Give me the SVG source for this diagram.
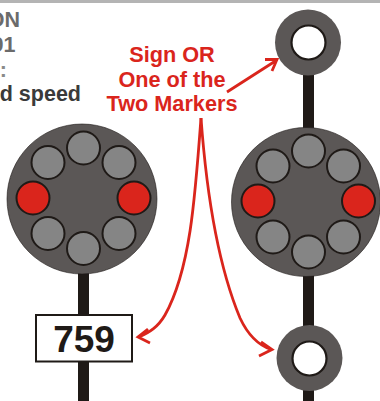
<svg xmlns="http://www.w3.org/2000/svg" width="380" height="401" viewBox="0 0 380 401">
<style>
text{font-family:"Liberation Sans",Arial,sans-serif;font-weight:700}
.pole{fill:#1f1a17}
.disc{fill:#5b5756;stroke:#1f1a17;stroke-width:.6}
.ring{fill:#5b5756}
.hole{fill:#fff;stroke:#1f1a17;stroke-width:2.2}
.g{fill:#858585;stroke:#1f1a17;stroke-width:2}
.r{fill:#da251c;stroke:#1f1a17;stroke-width:2}
.lab{fill:#da251c;font-size:21.7px;text-anchor:middle}
.con{fill:none;stroke:#da251c;stroke-width:2.8}
</style>
<rect width="380" height="3" fill="#b4b4b4"/>
<g id="caption">
<text x="20" y="27" font-size="21.5" text-anchor="end" fill="#6b6b6b">ON</text>
<text x="15.500" y="52" font-size="21.5" text-anchor="end" fill="#6b6b6b">91</text>
<text x="7" y="77" font-size="21.5" text-anchor="end" fill="#8a8a8a">:</text>
<text x="81" y="101" font-size="21.500" text-anchor="end" fill="#3a3a3a">d speed</text>
</g>
<g id="left-pole"><rect class="pole" x="78" y="270" width="11" height="131"/></g>
<g id="right-pole"><rect class="pole" x="303" y="60" width="11" height="341"/></g>
<g id="left-signal">
<circle class="disc" cx="82" cy="199" r="75"/>
<circle class="g" cx="83.500" cy="148" r="16.500"/>
<circle class="g" cx="48" cy="162.500" r="16.500"/>
<circle class="g" cx="119" cy="162.500" r="16.500"/>
<circle class="r" cx="33" cy="198" r="16.500"/>
<circle class="r" cx="134" cy="198" r="16.500"/>
<circle class="g" cx="48" cy="233.500" r="16.500"/>
<circle class="g" cx="119" cy="233.500" r="16.500"/>
<circle class="g" cx="83.500" cy="248.500" r="16.500"/>
</g>
<g id="right-signal">
<circle class="disc" cx="306" cy="202" r="74.500"/>
<circle class="g" cx="308.500" cy="151" r="16.500"/>
<circle class="g" cx="273" cy="166" r="16.500"/>
<circle class="g" cx="343.500" cy="166" r="16.500"/>
<circle class="r" cx="258" cy="201" r="16.500"/>
<circle class="r" cx="358.500" cy="201" r="16.500"/>
<circle class="g" cx="273" cy="237" r="16.500"/>
<circle class="g" cx="343.500" cy="237" r="16.500"/>
<circle class="g" cx="308.500" cy="252" r="16.500"/>
</g>
<g id="top-marker">
<circle class="ring" cx="308" cy="42.500" r="33"/>
<circle class="hole" cx="308.500" cy="42.500" r="17"/>
</g>
<g id="bottom-marker">
<circle class="ring" cx="309.500" cy="358" r="33"/>
<circle class="hole" cx="309.500" cy="358.500" r="17"/>
</g>
<g id="sign">
<rect x="36" y="315" width="96" height="46.500" fill="#fff" stroke="#1f1a17" stroke-width="2"/>
<text x="84" y="352" font-size="37" text-anchor="middle" fill="#1f1a17">759</text>
</g>
<g id="label">
<text class="lab" x="172" y="62">Sign OR</text>
<text class="lab" x="172" y="87">One of the</text>
<text class="lab" x="172" y="111">Two Markers</text>
</g>
<g id="connectors">
<path class="con" d="M227 92L277 60M265 59.500L277 59.500L272 71"/>
<path class="con" d="M201 118C195 200 190 270 165 315C158 327 150 332 139 337M148 329L138 337L150 343"/>
<path class="con" d="M201 118C207 200 220 270 240 318C247 333 258 345 271 349.500M261 342L272 349.500L259 356"/>
</g>
</svg>
